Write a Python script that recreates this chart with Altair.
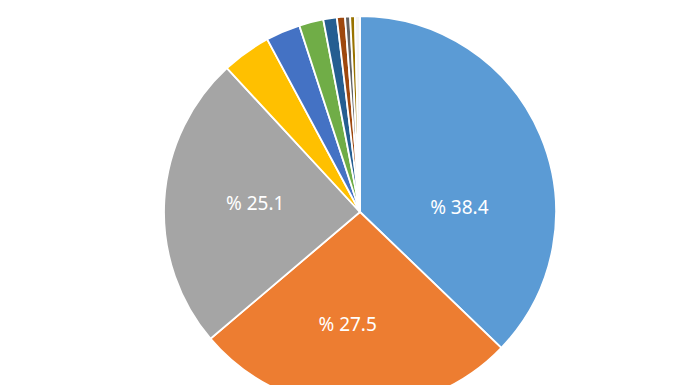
import altair as alt
import pandas as pd

categories = ["Cat 1", "Cat 2", "Cat 3", "Cat 4", "Cat 5", "Cat 6",
              "Cat 7", "Cat 8", "Cat 9", "Cat 10", "Cat 11"]
values = [38.4, 27.5, 25.1, 4.17, 2.93, 2.07, 1.15, 0.69, 0.43, 0.40, 0.43]
colors = ["#5B9BD5", "#ED7D31", "#A5A5A5", "#FFC000", "#4472C4", "#70AD47",
          "#255E91", "#9E480E", "#636363", "#997300", "#F4F4F4"]
labeled = ["Cat 1", "Cat 2", "Cat 3"]

df = pd.DataFrame({"category": categories, "value": values,
                   "idx": list(range(len(categories)))})
total = sum(values)

CX, CY, R = 352, 204, 196

theta_scale = alt.Scale(domain=[0, total], range=[0, 6.283185307179586])

base = alt.Chart(df)

pie = base.mark_arc(radius=R, stroke="white", strokeWidth=1.8).encode(
    theta=alt.Theta("value:Q", stack=True, scale=theta_scale),
    color=alt.Color("category:N", scale=alt.Scale(domain=categories, range=colors), legend=None),
    order=alt.Order("idx:Q"),
    x=alt.value(CX),
    y=alt.value(CY),
)

def label_layer(cat, dx, dy):
    return base.transform_window(
        cum="sum(value)", sort=[alt.SortField("idx")]
    ).transform_calculate(
        mid="datum.cum - datum.value / 2",
        label="'% ' + format(datum.value, '.1f')",
    ).transform_filter(
        alt.datum.category == cat
    ).mark_text(
        radius=108, font="Noto Sans", fontSize=19, color="white", dx=dx, dy=dy
    ).encode(
        theta=alt.Theta("mid:Q", stack=None, scale=theta_scale),
        text="label:N",
        x=alt.value(CX),
        y=alt.value(CY),
    )

offsets = {"Cat 1": (0, 38), "Cat 2": (-9, 5), "Cat 3": (3, -1)}
layers = [pie] + [label_layer(c, *offsets[c]) for c in labeled]

chart = alt.layer(*layers).properties(
    width=680, height=369, padding=0
).configure_view(stroke=None)

chart.save("out.html", embed_options={"renderer": "svg", "actions": False})
